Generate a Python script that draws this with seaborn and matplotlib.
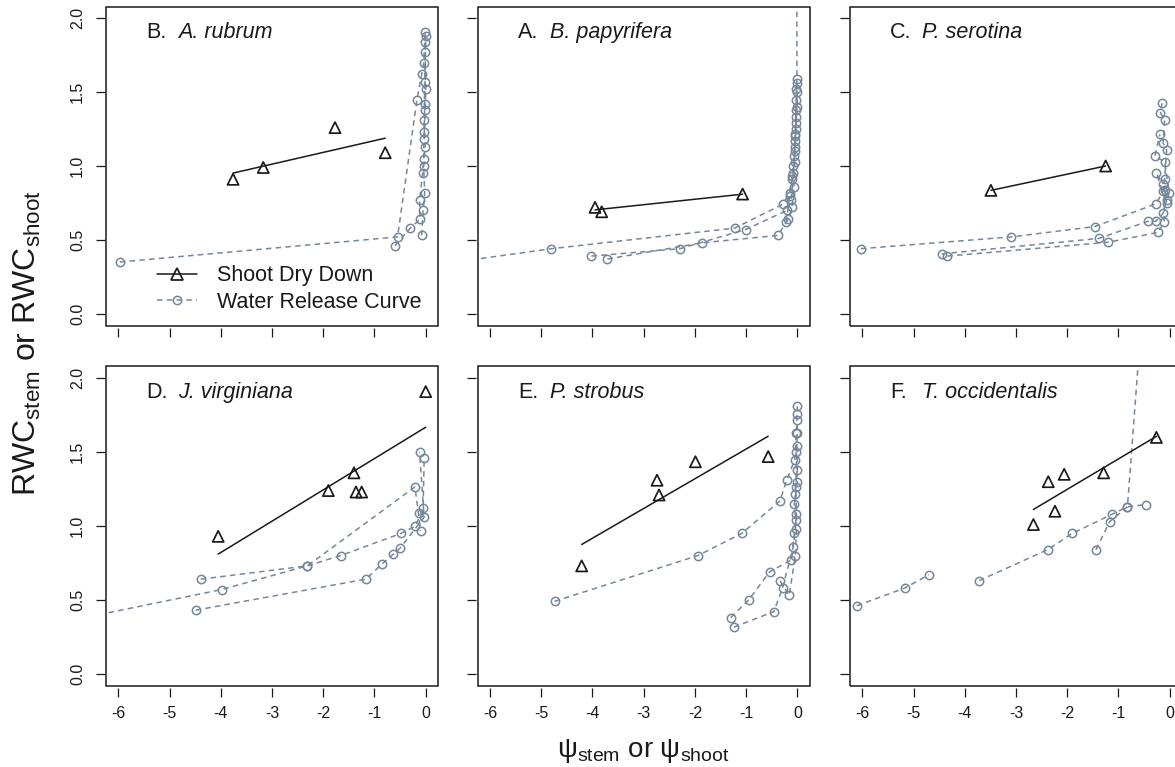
import numpy as np
import pandas as pd
import matplotlib
matplotlib.use("Agg")
import matplotlib.pyplot as plt
import seaborn as sns
from matplotlib.lines import Line2D
from matplotlib.patches import Rectangle

sns.set_theme(style="white")
plt.rcParams["font.family"] = ["Liberation Sans", "DejaVu Sans"]
plt.rcParams["mathtext.fontset"] = "custom"
plt.rcParams["mathtext.rm"] = "Liberation Sans"
plt.rcParams["mathtext.it"] = "Liberation Sans:italic"
plt.rcParams["mathtext.bf"] = "Liberation Sans:bold"

# ---------------- data ----------------
panel_letters = ["B.", "A.", "C.", "D.", "E.", "F."]
species = ["A. rubrum", "B. papyrifera", "P. serotina", "J. virginiana", "P. strobus", "T. occidentalis"]
x_ticks = [-6, -5, -4, -3, -2, -1, 0]
y_ticks = [0.0, 0.5, 1.0, 1.5, 2.0]

# Shoot dry down (triangles)
sdd_x_B = [-3.76, -3.17, -1.77, -0.79]
sdd_y_B = [0.91, 0.99, 1.26, 1.09]
sdd_x_A = [-3.95, -3.82, -1.07]
sdd_y_A = [0.72, 0.69, 0.81]
sdd_x_C = [-3.49, -1.25]
sdd_y_C = [0.835, 1.00]
sdd_x_D = [-4.05, -1.90, -1.40, -1.36, -1.25, 0.0]
sdd_y_D = [0.93, 1.24, 1.36, 1.23, 1.23, 1.91]
sdd_x_E = [-4.21, -2.74, -2.70, -1.99, -0.57]
sdd_y_E = [0.73, 1.31, 1.21, 1.435, 1.47]
sdd_x_F = [-2.66, -2.37, -2.24, -2.06, -1.29, -0.26]
sdd_y_F = [1.01, 1.30, 1.10, 1.35, 1.36, 1.60]

# Water release curves (one list per sample)
wrc_x_B = [[-5.97, -0.55, -0.17, -0.08, -0.04, -0.02, -0.01],
           [-0.60, -0.30, -0.11, -0.12, -0.06, -0.04, -0.03, -0.01, 0.0, -0.02],
           [-0.08, -0.05, -0.02, -0.04, -0.01, -0.03, -0.02, 0.0, -0.03, -0.01]]
wrc_y_B = [[0.35, 0.52, 1.45, 1.62, 1.70, 1.84, 1.91],
           [0.46, 0.58, 0.64, 0.77, 0.95, 1.05, 1.23, 1.38, 1.52, 1.77],
           [0.53, 0.70, 0.82, 1.00, 1.13, 1.31, 1.57, 1.88, 1.18, 1.42]]

wrc_x_A = [[-7.5, -4.80, -1.22, -0.29, -0.15, -0.10, -0.08, -0.05, -0.03, -0.02, -0.01, -0.01],
           [-4.02, -2.29, -1.01, -0.20, -0.12, -0.08, -0.06, -0.04, -0.03, -0.02],
           [-3.71, -1.86, -0.38, -0.18, -0.10, -0.07, -0.05, -0.04, -0.02, -0.01],
           [-0.22, -0.15, -0.10, -0.05, -0.03, -0.01, 0.0, -0.04]]
wrc_y_A = [[0.31, 0.44, 0.58, 0.74, 0.82, 0.91, 1.00, 1.13, 1.29, 1.45, 1.59, 3.5],
           [0.39, 0.44, 0.57, 0.70, 0.77, 0.95, 1.07, 1.22, 1.38, 1.52],
           [0.37, 0.48, 0.53, 0.64, 0.72, 0.86, 1.03, 1.17, 1.33, 1.56],
           [0.62, 0.80, 0.93, 1.10, 1.25, 1.40, 1.50, 1.20]]

wrc_x_C = [[-6.03, -3.09, -1.46, -0.26, -0.13, -0.10, -0.06, -0.13, -0.10, -0.18, -0.15],
           [-4.45, -1.38, -0.42, -0.27, -0.13, -0.06, -0.01, -0.10, -0.29, -0.19],
           [-4.34, -1.20, -0.23, -0.11, -0.10, -0.06, -0.26, -0.13]]
wrc_y_C = [[0.44, 0.52, 0.59, 0.745, 0.83, 0.91, 1.11, 1.155, 1.31, 1.36, 1.425],
           [0.405, 0.51, 0.626, 0.626, 0.68, 0.77, 0.82, 1.03, 1.065, 1.215],
           [0.39, 0.484, 0.55, 0.62, 0.84, 0.75, 0.95, 0.88]]

wrc_x_D = [[-7.5, -3.98, -2.31, -0.21, -0.14, -0.10],
           [-4.39, -2.31, -1.66, -0.48, -0.20, -0.05, -0.03],
           [-4.49, -1.17, -0.86, -0.63, -0.50, -0.03, -0.12]]
wrc_y_D = [[0.32, 0.57, 0.73, 1.265, 1.085, 0.967],
           [0.64, 0.73, 0.80, 0.95, 1.00, 1.12, 1.46],
           [0.43, 0.64, 0.74, 0.81, 0.85, 1.06, 1.50]]

wrc_x_E = [[-4.74, -1.94, -1.085, -0.34, -0.21, -0.05, -0.02, -0.01, 0.0],
           [-1.30, -0.95, -0.54, -0.12, -0.06, -0.02, -0.03, -0.01, 0.0],
           [-1.24, -0.46, -0.29, -0.08, -0.02, -0.05, 0.0, -0.01],
           [-0.34, -0.16, -0.04, -0.02, -0.06, 0.0, -0.03]]
wrc_y_E = [[0.49, 0.80, 0.95, 1.17, 1.31, 1.45, 1.63, 1.76, 1.81],
           [0.38, 0.50, 0.69, 0.77, 0.95, 1.08, 1.265, 1.54, 1.72],
           [0.315, 0.42, 0.58, 0.86, 1.04, 1.22, 1.38, 1.63],
           [0.63, 0.53, 0.80, 0.98, 1.15, 1.30, 1.50]]

wrc_x_F = [[-6.11, -5.17, -4.70],
           [-3.72, -2.38, -1.90, -1.12, -0.825, -0.47],
           [-1.44, -1.17, -0.825, -0.42]]
wrc_y_F = [[0.46, 0.58, 0.67],
           [0.63, 0.84, 0.95, 1.08, 1.13, 1.145],
           [0.84, 1.03, 1.13, 3.0]]

sdd_x = [sdd_x_B, sdd_x_A, sdd_x_C, sdd_x_D, sdd_x_E, sdd_x_F]
sdd_y = [sdd_y_B, sdd_y_A, sdd_y_C, sdd_y_D, sdd_y_E, sdd_y_F]
wrc_x = [wrc_x_B, wrc_x_A, wrc_x_C, wrc_x_D, wrc_x_E, wrc_x_F]
wrc_y = [wrc_y_B, wrc_y_A, wrc_y_C, wrc_y_D, wrc_y_E, wrc_y_F]

# ---------------- figure ----------------
W, H = 1175, 767
GRAY = "#76879a"
INK = "#1a1a1a"
DASH = (0, (3.6, 2.8))
fig = plt.figure(figsize=(W / 100, H / 100), dpi=100)

col_left = [106, 477.7, 850]
row_top = [6.5, 366.5]
ax_w, ax_h = 332, 319

for i in range(6):
    r, c = divmod(i, 3)
    ax = fig.add_axes([col_left[c] / W, 1 - (row_top[r] + ax_h) / H, ax_w / W, ax_h / H])

    # water release curves
    rows = []
    for k, (xs, ys) in enumerate(zip(wrc_x[i], wrc_y[i])):
        for j, (xv, yv) in enumerate(zip(xs, ys)):
            rows.append({"curve": k, "order": j, "x": xv, "y": yv})
    df = pd.DataFrame(rows)
    sns.lineplot(data=df, x="x", y="y", units="curve", estimator=None, sort=False,
                 color=GRAY, linestyle=DASH, linewidth=1.1,
                 marker="o", markersize=6, markerfacecolor="none",
                 markeredgecolor=GRAY, markeredgewidth=1.1, legend=False, ax=ax)

    # shoot dry down: regression line + triangles
    sx = np.array(sdd_x[i]); sy = np.array(sdd_y[i])
    sns.regplot(x=sx, y=sy, scatter=False, ci=None, truncate=True, color=INK,
                line_kws=dict(linewidth=1.1), ax=ax)
    sns.scatterplot(x=sx, y=sy, marker="^", s=64, facecolor="none", edgecolor=INK,
                    linewidth=1.25, zorder=5, ax=ax)

    ax.set_xlim(-6.24, 0.24)
    ax.set_ylim(-0.08, 2.08)
    ax.set_xticks(x_ticks)
    ax.set_yticks(y_ticks)
    ax.set_xlabel(""); ax.set_ylabel("")
    ax.set_xticklabels([str(t) for t in x_ticks] if r == 1 else [])
    ax.set_yticklabels([f"{t:.1f}" for t in y_ticks] if c == 0 else [])
    for s in ax.spines.values():
        s.set_visible(False)
    ax.spines["bottom"].set_position(("outward", 1.5))
    ax.spines["left"].set_position(("outward", 1.0))
    ax.add_patch(Rectangle((0, 0), 1, 1, transform=ax.transAxes, fill=False,
                           edgecolor=INK, linewidth=1.1, clip_on=False, zorder=10))
    ax.tick_params(axis="both", direction="out", length=6.5, width=0.9, colors=INK,
                   labelsize=11.5, bottom=True, left=True)
    ax.tick_params(axis="x", pad=7)
    ax.tick_params(axis="y", pad=7.5, labelrotation=90)
    for t in ax.get_yticklabels():
        t.set_va("center")

    ax.text(0.121, 0.918, panel_letters[i], transform=ax.transAxes, fontsize=15.5,
            color=INK, va="center", ha="left")
    ax.annotate(species[i], xy=(0.121, 0.918), xycoords="axes fraction",
                xytext=(22.8, 0), textcoords="offset points", fontsize=15.5,
                fontstyle="italic", color=INK, va="center", ha="left")

    if i == 0:
        handles = [Line2D([], [], color=INK, lw=1.1, marker="^", ms=8, mfc="none",
                          mec=INK, mew=1.25),
                   Line2D([], [], color=GRAY, lw=1.1, linestyle=DASH,
                          marker="o", ms=6, mfc="none", mec=GRAY, mew=1.1)]
        ax.legend(handles, ["Shoot Dry Down", "Water Release Curve"], loc="lower left",
                  bbox_to_anchor=(0.155, 0.04), frameon=False, fontsize=15.5,
                  handlelength=1.85, handletextpad=0.9, labelspacing=0.25,
                  borderpad=0, borderaxespad=0, labelcolor=INK)

fig.text(27 / W, 1 - 343 / H, r"RWC$_{\mathrm{stem}}$ or RWC$_{\mathrm{shoot}}$",
         rotation=90, ha="center", va="center", fontsize=23, color=INK)
fig.text(643 / W, 1 - 757 / H, r"$\mathrm{ψ}_{\mathrm{stem}}$ or $\mathrm{ψ}_{\mathrm{shoot}}$",
         ha="center", va="baseline", fontsize=20, color=INK)

fig.savefig("out.png", dpi=100)
